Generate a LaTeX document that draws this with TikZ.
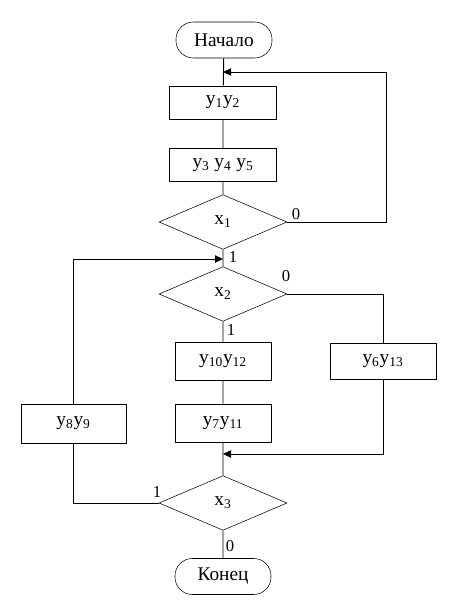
\documentclass[tikz,border=0pt]{standalone}
\usepackage{fontspec}
\setmainfont{Liberation Serif}
\usetikzlibrary{shapes.geometric,arrows.meta}

\tikzset{terminal_block/.style={draw, rounded corners=13pt, minimum width=72pt, minimum height=27pt, inner sep=0pt, font=\fontsize{14.5}{17}\selectfont}}
\tikzset{action_block/.style={draw, rectangle, minimum width=80pt, minimum height=25pt, inner sep=0pt, font=\fontsize{14.5}{17}\selectfont}}
\tikzset{cond_block/.style={draw, diamond, aspect=2.4, minimum width=96pt, minimum height=41pt, inner sep=0pt, font=\fontsize{14.5}{17}\selectfont}}
\tikzset{branch_label/.style={inner sep=0pt, font=\fontsize{12.5}{15}\selectfont}}
\tikzset{flow_line/.style={line width=0.7pt}}
\tikzset{flow_arrow/.style={line width=0.7pt, -{Triangle[length=6pt,width=5.5pt]}}}

\newcommand{\ysub}[1]{y\textsubscript{#1}}

\begin{document}
\begin{tikzpicture}[x=0.75pt, y=-0.75pt]
    \useasboundingbox (0,0) rectangle (462,614);
    % blocks
    \node[terminal_block] (start) at (224,40) {Начало};
    \node[action_block] (b12) at (223,102.5) {\ysub{1}\ysub{2}};
    \node[action_block] (b345) at (223,165) {\ysub{3} \ysub{4} \ysub{5}};
    \node[cond_block] (x1) at (223,222) {x\textsubscript{1}};
    \node[cond_block] (x2) at (223,294) {x\textsubscript{2}};
    \node[action_block, minimum width=72pt, minimum height=28.5pt] (b1012) at (223,361) {\ysub{10}\ysub{12}};
    \node[action_block, minimum width=79.5pt, minimum height=27pt] (b613) at (383,361) {\ysub{6}\ysub{13}};
    \node[action_block, minimum width=72pt, minimum height=28.5pt] (b711) at (223,423) {\ysub{7}\ysub{11}};
    \node[action_block, minimum width=78.75pt, minimum height=29.25pt] (b89) at (73.5,423.5) {\ysub{8}\ysub{9}};
    \node[cond_block] (x3) at (223,503) {x\textsubscript{3}};
    \node[terminal_block] (stop) at (223,576.5) {Конец};
    % joins
    \coordinate (join1) at (223,72);
    \coordinate (join2) at (223,259);
    \coordinate (join3) at (223,454);
    % main flow
    \draw[flow_line] (start) -- (b12) -- (b345) -- (x1) -- (x2) -- (b1012) -- (b711) -- (x3) -- (stop);
    \draw[flow_arrow] (x1.east) -| (386,72) -- (join1);
    \draw[flow_line] (x2.east) -| (b613.north);
    \draw[flow_arrow] (b613.south) |- (join3);
    \draw[flow_line] (x3.west) -| (b89.south);
    \draw[flow_arrow] (b89.north) |- (join2);
    % branch labels
    \node[branch_label] (l1) at (296,214) {0};
    \node[branch_label] (l2) at (233,257) {1};
    \node[branch_label] (l3) at (286,276) {0};
    \node[branch_label] (l4) at (231,330) {1};
    \node[branch_label] (l5) at (157,492) {1};
    \node[branch_label] (l6) at (230,546) {0};
\end{tikzpicture}
\end{document}
